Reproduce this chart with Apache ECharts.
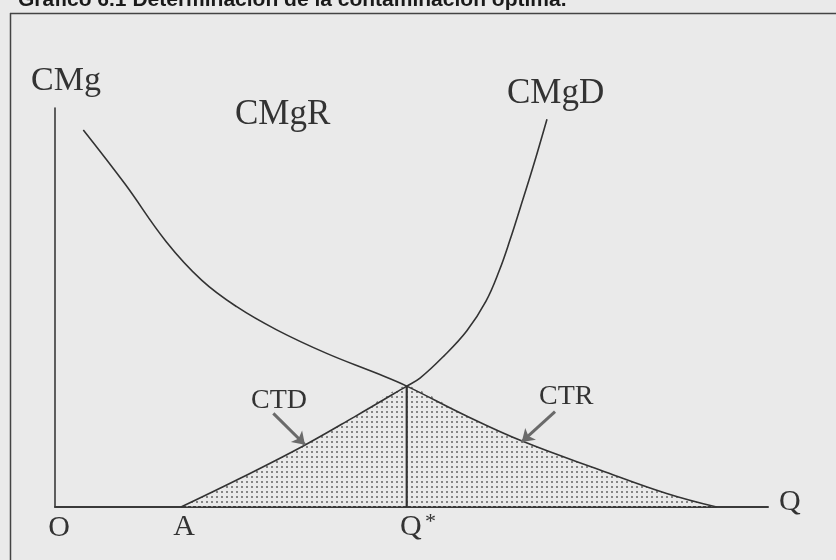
<!DOCTYPE html>
<html>
<head>
<meta charset="utf-8">
<script src="https://cdn.jsdelivr.net/npm/echarts@6/dist/echarts.min.js"></script>
<style>
  html, body { margin: 0; padding: 0; background: #eaeaea; }
  #chart { width: 836px; height: 560px; }
</style>
</head>
<body>
<div id="chart"></div>
<script>
// curve points (Q on x, cost on y, both 0..100)
const cmgR = [
  [3.97, 94.5], [9.8, 81.0], [15.6, 66.5], [20.6, 56.8], [25.48, 50.2],
  [31.09, 44.4], [38.1, 38.5], [45.12, 33.5], [49.33, 30.3],
  [57.5, 23.0], [65.68, 16.4], [76.44, 9.3], [85.79, 3.4], [92.8, 0]
];
const cmgD = [
  [17.67, 0], [26.2, 7.4], [34.82, 15.3], [42.0, 22.6], [49.33, 30.3],
  [51.19, 32.3], [54.46, 37.7], [57.74, 44.1], [60.45, 51.6], [62.3, 59.2],
  [63.81, 66.9], [65.29, 75.2], [67.04, 85.2], [69.0, 97.2]
];
const qStar = 49.33;
const pStar = 30.3;
// arrows pointing at the two shaded areas: [from, to]
const arrows = [
  [[30.62, 23.48], [35.06, 15.6]],
  [[70.13, 23.88], [65.46, 16.3]]
];

// shaded total cost area: under CMgD up to Q*, under CMgR after it
const areaData = cmgD.filter(p => p[0] <= qStar).concat(cmgR.filter(p => p[0] > qStar));

const dots = document.createElement("canvas");
dots.width = 5;
dots.height = 5;
const dctx = dots.getContext("2d");
dctx.fillStyle = "#858585";
dctx.fillRect(1, 1, 2, 2);

const chart = echarts.init(document.getElementById("chart"));
const ink = "#333";
const serif = "'Liberation Serif', 'Times New Roman', serif";

const txt = (text, x, y, size, align) => ({
  type: "text",
  style: {
    x: x, y: y, text: text, fill: ink,
    font: size + "px " + serif,
    textAlign: align || "left", textVerticalAlign: "middle"
  }
});

chart.setOption({
  backgroundColor: "#eaeaea",
  animation: false,
  grid: { left: 55, top: 108, right: 68, bottom: 53 },
  xAxis: {
    type: "value", min: 0, max: 100,
    axisLine: { show: true, lineStyle: { color: "#3a3a3a", width: 2 } },
    axisTick: { show: false }, axisLabel: { show: false }, splitLine: { show: false }
  },
  yAxis: {
    type: "value", min: 0, max: 100,
    axisLine: { show: true, lineStyle: { color: "#3a3a3a", width: 1.6 } },
    axisTick: { show: false }, axisLabel: { show: false }, splitLine: { show: false }
  },
  series: [
    {
      type: "line", data: areaData, smooth: 0.2,
      showSymbol: false, z: 1,
      lineStyle: { width: 0 },
      areaStyle: { color: { image: dots, repeat: "repeat" }, opacity: 1 }
    },
    {
      name: "CMgR", type: "line", data: cmgR, smooth: 0.4,
      showSymbol: false, z: 3,
      lineStyle: { color: ink, width: 1.6 }
    },
    {
      name: "CMgD", type: "line", data: cmgD, smooth: 0.4,
      showSymbol: false, z: 3,
      lineStyle: { color: ink, width: 1.6 },
      markLine: {
        silent: true, symbol: ["none", "arrow"], symbolSize: 12,
        label: { show: false },
        lineStyle: { color: "#6a6a6a", width: 3, type: "solid" },
        data: arrows.map(a => [{ coord: a[0] }, { coord: a[1] }])
      }
    },
    {
      type: "line", data: [[qStar, 0], [qStar, pStar]],
      showSymbol: false, z: 3,
      lineStyle: { color: ink, width: 2.2 }
    }
  ],
  graphic: [
    { type: "line", shape: { x1: 10.5, y1: 13, x2: 10.5, y2: 560 }, style: { stroke: "#444", lineWidth: 1.5 } },
    { type: "line", shape: { x1: 10, y1: 13.5, x2: 836, y2: 13.5 }, style: { stroke: "#444", lineWidth: 1.5 } },
    {
      type: "text",
      style: {
        x: 18, y: 0, text: "Gráfico 6.1 Determinación de la contaminación óptima.",
        fill: "#1a1a1a", font: "bold 21px 'Liberation Sans', Arial, sans-serif",
        textVerticalAlign: "middle"
      }
    },
    txt("CMg", 31, 81, 34),
    txt("CMgR", 235, 115, 35),
    txt("CMgD", 507, 94, 35),
    txt("CTD", 251, 401, 28),
    txt("CTR", 539, 397, 28),
    txt("O", 59, 528, 30, "center"),
    txt("A", 184, 527, 30, "center"),
    txt("Q", 400, 527, 30),
    txt("*", 425, 522, 22),
    txt("Q", 779, 502, 30)
  ]
});
</script>
</body>
</html>
